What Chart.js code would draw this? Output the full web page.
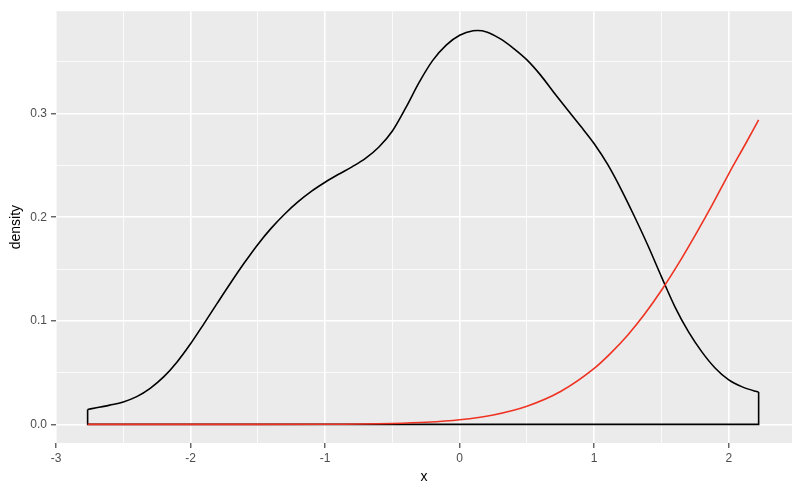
<!DOCTYPE html>
<html>
<head>
<meta charset="utf-8">
<script src="https://cdn.jsdelivr.net/npm/chart.js@4/dist/chart.umd.min.js"></script>
<style>
  html, body { margin: 0; padding: 0; background: #fff; }
  #wrap { width: 800px; height: 494px; }
</style>
</head>
<body>
<div id="wrap"><canvas id="densityChart"></canvas></div>
<script>
// kernel density of the sample (black outline)
const densityX = [-2.765, -2.7, -2.6, -2.5, -2.4, -2.3, -2.2, -2.1, -2.0, -1.9, -1.8, -1.7, -1.6, -1.5,
  -1.4, -1.3, -1.2, -1.1, -1.0, -0.9, -0.8, -0.7, -0.6, -0.5, -0.4, -0.3, -0.2, -0.1, 0.0, 0.1, 0.13,
  0.2, 0.3, 0.4, 0.5, 0.6, 0.7, 0.8, 0.9, 1.0, 1.1, 1.2, 1.3, 1.4, 1.5, 1.6, 1.7, 1.8, 1.9, 2.0,
  2.1, 2.2, 2.222];
const densityY = [0.0144, 0.0160, 0.0186, 0.0217, 0.0268, 0.0348, 0.0458, 0.0603, 0.0778, 0.0973, 0.1173, 0.137, 0.156, 0.1738,
  0.1895, 0.2032, 0.2150, 0.2252, 0.2338, 0.2415, 0.2487, 0.2568, 0.2678, 0.2833, 0.3059, 0.3305, 0.3515, 0.3663, 0.3758, 0.3801, 0.3803,
  0.379, 0.3725, 0.3632, 0.3520, 0.3375, 0.3205, 0.3040, 0.2878, 0.271, 0.251, 0.227, 0.2005, 0.1725, 0.1425, 0.1135, 0.0895, 0.0700, 0.0542, 0.0429,
  0.0362, 0.0319, 0.0312];

// red reference curve
const normalX = [-2.765, -2.0, -1.5, -1.0, -0.5, -0.25, 0.0, 0.25, 0.5, 0.75, 1.0, 1.125, 1.25, 1.375, 1.5,
  1.625, 1.75, 1.875, 2.0, 2.125, 2.222];
const normalY = [0, 0, 0.0000, 0.0001, 0.0009, 0.002, 0.0044, 0.0091, 0.0175, 0.0317, 0.054, 0.069, 0.0863, 0.1065, 0.1295,
  0.155, 0.1826, 0.2115, 0.242, 0.271, 0.294];

const xTicks = [-3, -2, -1, 0, 1, 2];
const xMinor = [-2.5, -1.5, -0.5, 0.5, 1.5];
const yTicks = [0, 0.1, 0.2, 0.3];
const yMinor = [0.05, 0.15, 0.25, 0.35];

const curvePts = densityX.map((x, i) => ({ x: x, y: densityY[i] }));
const last = densityX.length - 1;
const edgePts = [
  { x: densityX[0], y: densityY[0] },
  { x: densityX[0], y: 0 },
  { x: densityX[last], y: 0 },
  { x: densityX[last], y: densityY[last] }
];
const normalPts = normalX.map((x, i) => ({ x: x, y: normalY[i] }));

Chart.defaults.font.family = "'Liberation Sans', Arial, sans-serif";

const panelBg = {
  id: 'panelBg',
  beforeDraw(chart) {
    const { ctx, chartArea: a } = chart;
    ctx.save();
    ctx.fillStyle = '#EBEBEB';
    ctx.fillRect(a.left, a.top, a.right - a.left, a.bottom - a.top);
    ctx.restore();
  }
};

const allTicks = (major, minor) => major.concat(minor).sort((a, b) => a - b).map(v => ({ value: v }));

const ctx = document.getElementById('densityChart').getContext('2d');
const densityChart = new Chart(ctx, {
  type: 'line',
  data: {
    datasets: [
      {
        label: 'normal',
        data: normalPts,
        borderColor: '#EE3322',
        borderWidth: 1.6,
        pointRadius: 0,
        cubicInterpolationMode: 'monotone',
        order: 0
      },
      {
        label: 'density',
        data: curvePts,
        borderColor: '#000000',
        borderWidth: 1.6,
        pointRadius: 0,
        cubicInterpolationMode: 'monotone',
        order: 1
      },
      {
        label: 'edges',
        data: edgePts,
        borderColor: '#000000',
        borderWidth: 1.6,
        pointRadius: 0,
        tension: 0,
        order: 2
      }
    ]
  },
  options: {
    responsive: true,
    maintainAspectRatio: false,
    animation: false,
    layout: { padding: { top: 8, right: 8, bottom: 0, left: 0 } },
    plugins: { legend: { display: false }, tooltip: { enabled: false } },
    scales: {
      x: {
        type: 'linear',
        min: -3,
        max: 2.47,
        afterBuildTicks: s => { s.ticks = allTicks(xTicks, xMinor); },
        afterFit: s => { s.height = 51; },
        border: { display: false },
        grid: {
          color: '#FFFFFF',
          lineWidth: c => (c.tick && xTicks.includes(c.tick.value)) ? 1.6 : 0.8,
          tickColor: c => (c.tick && xTicks.includes(c.tick.value)) ? '#333333' : 'rgba(0,0,0,0)',
          tickLength: 5,
          tickWidth: 1.1
        },
        ticks: {
          color: '#4D4D4D',
          font: { size: 12 },
          padding: 3,
          maxRotation: 0,
          autoSkip: false,
          callback: v => xTicks.includes(v) ? String(v) : ''
        },
        title: { display: true, text: 'x', color: '#000000', font: { size: 14 }, padding: { top: 0, bottom: 8.7 } }
      },
      y: {
        type: 'linear',
        min: -0.018,
        max: 0.399,
        afterBuildTicks: s => { s.ticks = allTicks(yTicks, yMinor); },
        afterFit: s => { s.width = 56; },
        border: { display: false },
        grid: {
          color: '#FFFFFF',
          lineWidth: c => (c.tick && yTicks.includes(c.tick.value)) ? 1.6 : 0.8,
          tickColor: c => (c.tick && yTicks.includes(c.tick.value)) ? '#333333' : 'rgba(0,0,0,0)',
          tickLength: 5,
          tickWidth: 1.1
        },
        ticks: {
          color: '#4D4D4D',
          font: { size: 12 },
          padding: 4,
          autoSkip: false,
          callback: v => yTicks.includes(v) ? v.toFixed(1) : ''
        },
        title: { display: true, text: 'density', color: '#000000', font: { size: 14 }, padding: { top: 7.6, bottom: 0 } }
      }
    }
  },
  plugins: [panelBg]
});
</script>
</body>
</html>
